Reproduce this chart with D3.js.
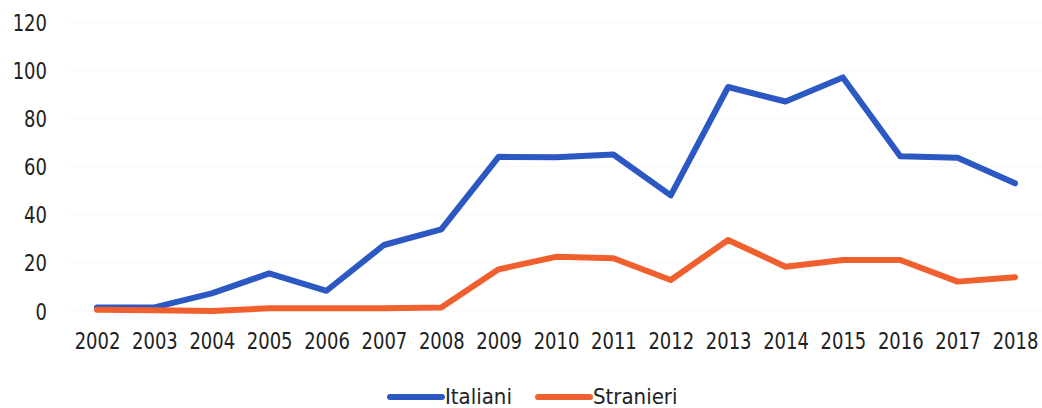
<!DOCTYPE html>
<html>
<head>
<meta charset="utf-8">
<script src="https://cdn.jsdelivr.net/npm/d3@7"></script>
<style>
  html, body { margin: 0; padding: 0; background: #ffffff; }
  svg text { font-family: "DejaVu Sans Condensed", "DejaVu Sans", sans-serif; fill: #222; }
</style>
</head>
<body>
<svg id="chart" width="1042" height="408"></svg>
<script>
const years = ["2002","2003","2004","2005","2006","2007","2008","2009","2010","2011","2012","2013","2014","2015","2016","2017","2018"];
const italiani = [1.5, 1.5, 7.3, 15.6, 8.4, 27.4, 33.9, 64, 63.8, 65, 48, 93, 87, 97, 64.3, 63.6, 53];
const stranieri = [0.5, 0.3, 0, 1.1, 1.1, 1.1, 1.5, 17.3, 22.5, 21.9, 12.9, 29.5, 18.4, 21.2, 21.2, 12.2, 14];
const yTicks = [0, 20, 40, 60, 80, 100, 120];
const seriesNames = ["Italiani", "Stranieri"];
const seriesColors = ["#2c58c4", "#f0602f"];

const svg = d3.select("#chart");
const x = d3.scalePoint().domain(years).range([97, 1015]);
const y = d3.scaleLinear().domain([0, 120]).range([311, 22]);

// faint gridlines
svg.append("g")
  .selectAll("line")
  .data(yTicks)
  .join("line")
  .attr("x1", 68).attr("x2", 1042)
  .attr("y1", d => y(d)).attr("y2", d => y(d))
  .attr("stroke", "#f7f7f7").attr("stroke-width", 1);

// y axis
const yAxis = d3.axisLeft(y).tickValues(yTicks).tickSize(0).tickPadding(0);
const gy = svg.append("g").attr("transform", "translate(47,0)").call(yAxis);
gy.select(".domain").remove();
gy.selectAll("text").style("font-size", "20px").attr("fill", "#222")
  .attr("dy", "0.36em").attr("transform", "scale(1,1.12)");

// x axis
const xAxis = d3.axisBottom(x).tickSize(0).tickPadding(0);
const gx = svg.append("g").attr("transform", "translate(0,333)").call(xAxis);
gx.select(".domain").remove();
gx.selectAll("text").style("font-size", "20px").attr("fill", "#222")
  .attr("dy", "0.71em").attr("transform", "scale(1,1.12)").attr("y", 0);

// lines
const line = d3.line().x((d, i) => x(years[i])).y(d => y(d));
[italiani, stranieri].forEach((s, k) => {
  svg.append("path")
    .datum(s)
    .attr("d", line)
    .attr("fill", "none")
    .attr("stroke", seriesColors[k])
    .attr("stroke-width", 6)
    .attr("stroke-linejoin", "round")
    .attr("stroke-linecap", "round");
});

// legend
const legendX = [390, 538];
const lg = svg.append("g");
seriesNames.forEach((name, k) => {
  const g = lg.append("g").attr("transform", `translate(${legendX[k]},397)`);
  g.append("line").attr("x1", 0).attr("x2", 52).attr("y1", 0).attr("y2", 0)
    .attr("stroke", seriesColors[k]).attr("stroke-width", 6).attr("stroke-linecap", "round");
  g.append("text").attr("x", 55).attr("y", 0).attr("dy", "0.33em")
    .style("font-size", "22px").text(name);
});
</script>
</body>
</html>
